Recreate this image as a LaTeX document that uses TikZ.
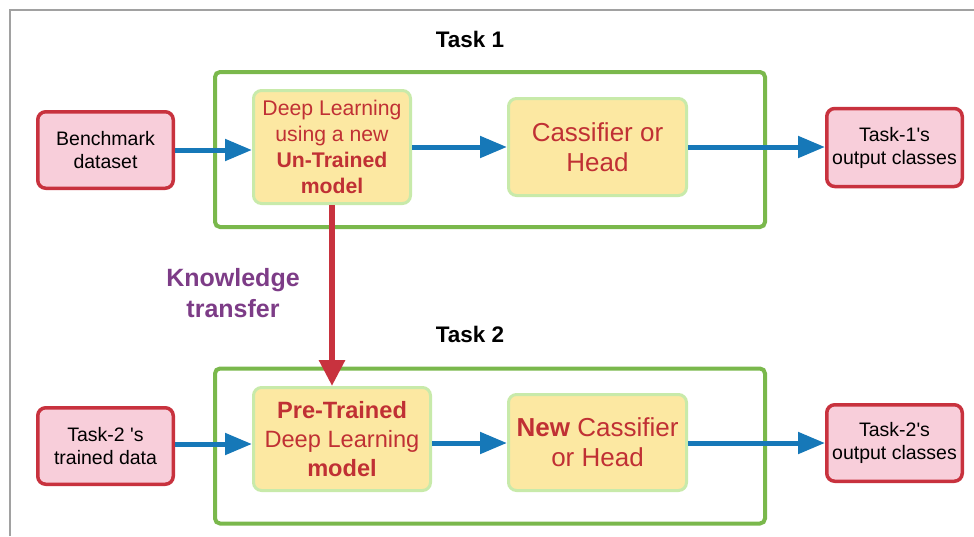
\documentclass[tikz,border=0pt]{standalone}
\usepackage{fontspec}
\setmainfont{Liberation Sans}
\usetikzlibrary{positioning}
\usetikzlibrary{arrows.meta}
\definecolor{boxred}{RGB}{200,50,62}
\definecolor{boxpink}{RGB}{248,206,218}
\definecolor{modelfill}{RGB}{252,232,162}
\definecolor{modeledge}{RGB}{200,234,170}
\definecolor{modeltext}{RGB}{192,48,52}
\definecolor{taskgreen}{RGB}{122,184,76}
\definecolor{flowblue}{RGB}{22,120,184}
\definecolor{transfer}{RGB}{125,60,135}
\tikzset {
  % input and output boxes
  io/.style={draw=boxred, fill=boxpink, line width=3.5pt, rounded corners=8pt,
    inner sep=0pt, minimum width=135.5pt, minimum height=76.5pt, align=center,
    font=\fontsize{19.5}{23}\selectfont},
  % model blocks
  model/.style={draw=modeledge, fill=modelfill, line width=3pt, rounded corners=8pt,
    inner sep=0pt, text=modeltext, align=center},
  % the green task frames
  task/.style={draw=taskgreen, line width=4pt, rounded corners=5pt,
    minimum width=550pt, minimum height=155pt},
  title/.style={font=\fontsize{22.5}{26}\selectfont\bfseries},
  flow/.style={flowblue, line width=5pt, -{Triangle[length=27pt,width=21pt]}},
  knowledge/.style={boxred, line width=6pt, -{Triangle[length=26pt,width=25pt]}},
}
\begin{document}
\begin{tikzpicture}[x=1pt, y=-1pt]
      \useasboundingbox (0,0) rectangle (974,536);
      \draw[black!37, line width=2pt] (10,536) -- (10,10) -- (974,10);

      % Task 1
      \node[title] (t1) at (470,39) {Task 1};
      \node[task] (task1) at (490,149.5) {};
      \node[io] (bench) at (105.5,150) {Benchmark\\dataset};
      \node[model, minimum width=157pt, minimum height=113pt,
        font=\fontsize{21.2}{26}\selectfont] (dl) at (332,147)
        {Deep Learning\\using a new\\\textbf{Un-Trained}\\\textbf{model}};
      \node[model, minimum width=178pt, minimum height=97pt,
        font=\fontsize{26}{30}\selectfont] (head1) at (597.5,147) {Cassifier or\\Head};
      \node[io, minimum height=78pt] (out1) at (894.5,147.5)
        {Task-1\textquotesingle s\\output classes};

      \draw[flow] (bench.east) -- (bench.east -| dl.west);
      \draw[flow] (dl.east |- head1.west) -- (head1.west);
      \draw[flow] (head1.east) -- (head1.east -| out1.west);

      % Task 2
      \node[title] (t2) at (470,334) {Task 2};
      \node[task] (task2) at (490,446) {};
      \node[io] (data2) at (105.5,446) {Task-2 \textquotesingle s\\trained data};
      \node[model, minimum width=177pt, minimum height=103pt,
        font=\fontsize{23.6}{29}\selectfont] (pre) at (342,439)
        {\textbf{Pre-Trained}\\Deep Learning\\\textbf{model}};
      \node[model, minimum width=178pt, minimum height=96pt,
        font=\fontsize{26}{30}\selectfont] (head2) at (597.5,442.5)
        {\textbf{New} Cassifier\\or Head};
      \node[io] (out2) at (894.5,443) {Task-2\textquotesingle s\\output classes};

      \draw[flow] (data2.east |- 0,444) -- (pre.west |- 0,444);
      \draw[flow] (pre.east |- 0,443) -- (head2.west |- 0,443);
      \draw[flow] (head2.east |- 0,443) -- (out2.west |- 0,443);

      % transfer between the tasks
      \draw[knowledge] (dl.south) -- (dl.south |- pre.north);
      \node[transfer, font=\fontsize{25}{31}\selectfont\bfseries, align=center]
        (kt) at (233,293) {Knowledge\\transfer};
    \end{tikzpicture}
\end{document}
